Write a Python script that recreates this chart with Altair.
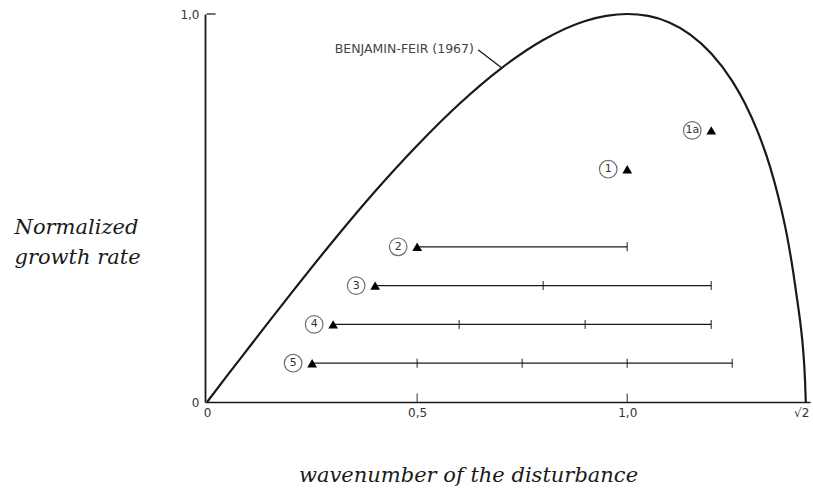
import altair as alt
import pandas as pd

# Benjamin-Feir curve
curve_k = [0.0, 0.05, 0.1, 0.15, 0.2, 0.3, 0.4, 0.5, 0.6, 0.7, 0.8, 0.9, 0.95, 1.0,
           1.05, 1.1, 1.15, 1.2, 1.25, 1.28, 1.31, 1.34, 1.36, 1.38, 1.395, 1.405,
           1.413, 1.419, 1.423, 1.425]
curve_rate = [0.0, 0.071, 0.141, 0.211, 0.28, 0.415, 0.543, 0.661, 0.768, 0.86, 0.933, 0.982, 0.995, 1.0,
              0.995, 0.978, 0.947, 0.898, 0.827, 0.77, 0.698, 0.606, 0.527, 0.43, 0.335, 0.26,
              0.195, 0.13, 0.06, 0.0]

# experiments
exp_labels = ["1a", "1", "2", "3", "4", "5"]
exp_k = [1.2, 1.0, 0.5, 0.4, 0.3, 0.25]
exp_rate = [0.70, 0.60, 0.40, 0.30, 0.20, 0.10]

# ranges (horizontal bars)
range_rate = [0.40, 0.30, 0.20, 0.10]
range_start = [0.5, 0.4, 0.3, 0.25]
range_end = [1.0, 1.2, 1.2, 1.25]

# small tick marks on the bars (interior and ends)
bar_tick_rate = [0.30, 0.20, 0.20, 0.10, 0.10, 0.10, 0.40, 0.30, 0.20, 0.10]
bar_tick_k = [0.8, 0.6, 0.9, 0.5, 0.75, 1.0, 1.0, 1.2, 1.2, 1.25]

x_tick_values = [0, 0.5, 1.0, 1.4142]
x_tick_labels = ["0", "0,5", "1,0", "√2"]
y_tick_values = [0, 1.0]
y_tick_labels = ["0", "1,0"]

curve_label = "BENJAMIN-FEIR (1967)"
label_pos = [0.635, 0.91]
leader = [0.645, 0.908, 0.70, 0.862]

x_title = "wavenumber of the disturbance"
y_title = ["Normalized", "growth rate"]

INK = "#1a1a1a"

def label_expr(values, labels):
    expr = "''"
    for v, l in reversed(list(zip(values, labels))):
        expr = f"abs(datum.value - {v}) < 0.001 ? '{l}' : ({expr})"
    return expr

xscale = alt.Scale(domain=[-0.005, 1.435], nice=False, zero=False)
yscale = alt.Scale(domain=[0, 1.0], nice=False, zero=False)

curve_df = pd.DataFrame({"k": curve_k, "rate": curve_rate})
exp_df = pd.DataFrame({"label": exp_labels, "k": exp_k, "rate": exp_rate})
range_df = pd.DataFrame({"rate": range_rate, "k": range_start, "k2": range_end})
btick_df = pd.DataFrame({"k": bar_tick_k, "rate": bar_tick_rate})
xt_df = pd.DataFrame({"k": [0.5, 1.0], "rate": [0.0, 0.0]})
yt_df = pd.DataFrame({"k": [0.0], "rate": [1.0]})
lab_df = pd.DataFrame({"k": [label_pos[0]], "rate": [label_pos[1]], "t": [curve_label]})
lead_df = pd.DataFrame({"k": [leader[0]], "rate": [leader[1]], "k2": [leader[2]], "rate2": [leader[3]]})

x_axis = alt.Axis(
    values=x_tick_values, labelExpr=label_expr(x_tick_values, x_tick_labels),
    ticks=False, grid=False, domainColor=INK, domainWidth=1.6,
    labelFont="DejaVu Sans", labelFontSize=12, labelColor="#333", labelPadding=5,
    labelFlush=False, labelOverlap=False,
    title=x_title, titleFont="DejaVu Serif", titleFontStyle="italic",
    titleFontWeight="normal", titleFontSize=21, titleColor=INK,
    titleX=263, titleY=79, titleAlign="center", titleBaseline="alphabetic",
)
y_axis = alt.Axis(
    values=y_tick_values, labelExpr=label_expr(y_tick_values, y_tick_labels),
    ticks=False, grid=False, domainColor=INK, domainWidth=1.8,
    labelFont="DejaVu Sans", labelFontSize=12, labelColor="#333", labelPadding=6,
    labelFlush=False, labelOverlap=False,
    title=y_title, titleFont="DejaVu Serif", titleFontStyle="italic",
    titleFontWeight="normal", titleFontSize=21, titleColor=INK,
    titleAngle=0, titleAlign="left", titleBaseline="alphabetic",
    titleX=-191, titleY=219, titleLineHeight=30,
)

curve = alt.Chart(curve_df).mark_line(color=INK, strokeWidth=2.2, interpolate="monotone").encode(
    x=alt.X("k:Q", scale=xscale, axis=x_axis),
    y=alt.Y("rate:Q", scale=yscale, axis=y_axis),
)

ranges = alt.Chart(range_df).mark_rule(color=INK, strokeWidth=1.3).encode(
    x="k:Q", x2="k2:Q", y="rate:Q"
)

bticks = alt.Chart(btick_df).mark_tick(orient="vertical", color=INK, size=9, thickness=1.4).encode(
    x="k:Q", y="rate:Q"
)

xticks = alt.Chart(xt_df).mark_tick(orient="vertical", color=INK, size=9, thickness=1.3, yOffset=-4).encode(
    x="k:Q", y="rate:Q"
)

yticks = alt.Chart(yt_df).mark_tick(orient="horizontal", color=INK, size=9, thickness=1.8, xOffset=4).encode(
    x="k:Q", y="rate:Q"
)

tri = alt.Chart(exp_df).mark_point(shape="triangle-up", filled=True, color="black", size=95, opacity=1).encode(
    x="k:Q", y="rate:Q"
)

circ = alt.Chart(exp_df).mark_point(shape="circle", filled=False, color="#333", size=310, strokeWidth=1.2, xOffset=-19).encode(
    x="k:Q", y="rate:Q"
)

circ_txt = alt.Chart(exp_df).mark_text(font="DejaVu Sans", fontSize=11, color="#333", xOffset=-19, baseline="middle").encode(
    x="k:Q", y="rate:Q", text="label:N"
)

lead = alt.Chart(lead_df).mark_rule(color=INK, strokeWidth=1.3).encode(
    x="k:Q", x2="k2:Q", y="rate:Q", y2="rate2:Q"
)

lab = alt.Chart(lab_df).mark_text(font="DejaVu Sans", fontSize=12.5, color="#444", align="right", baseline="middle").encode(
    x="k:Q", y="rate:Q", text="t:N"
)

chart = alt.layer(curve, ranges, bticks, xticks, yticks, tri, circ, circ_txt, lead, lab).properties(
    width=605, height=388,
    autosize=alt.AutoSizeParams(type="none"),
    padding={"left": 205, "top": 14, "right": 3, "bottom": 89},
    background="white",
).configure_view(stroke=None)

chart.save("out.html", embed_options={"renderer": "svg", "actions": False})
